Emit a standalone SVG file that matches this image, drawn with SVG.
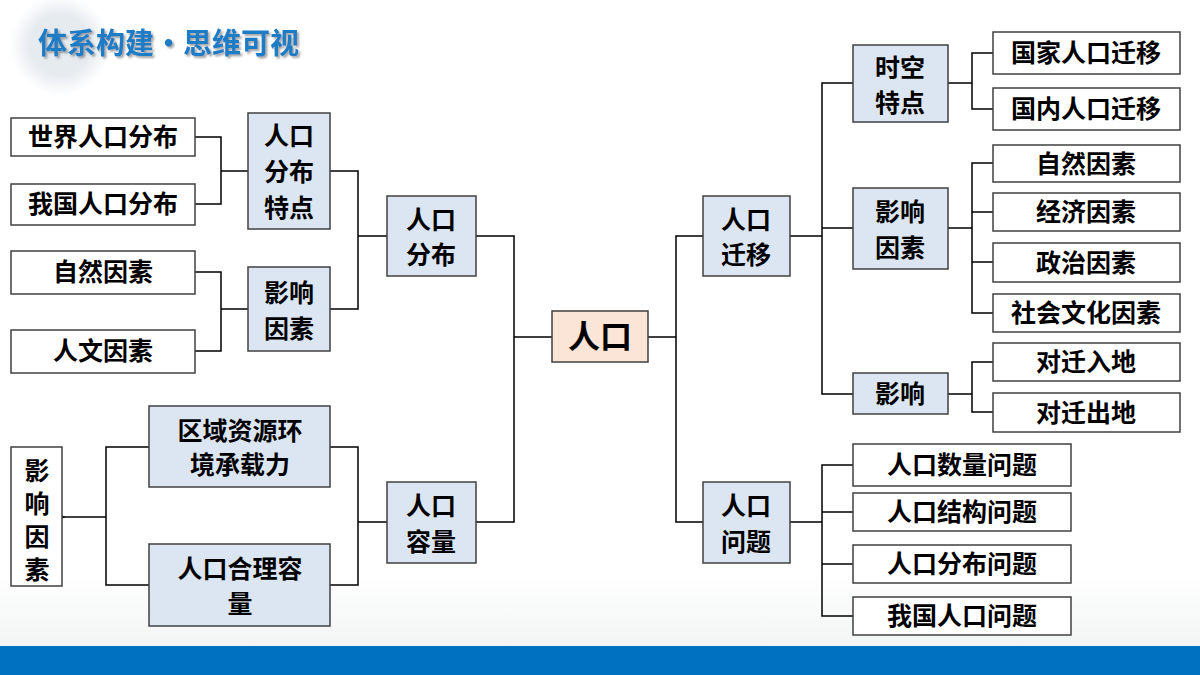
<svg xmlns="http://www.w3.org/2000/svg" width="1200" height="675" viewBox="0 0 1200 675">
<defs>
<style>
.w{fill:#fff;stroke:#404040;stroke-width:1.5}
.b{fill:#DCE6F2;stroke:#404040;stroke-width:1.5}
text{font-family:"Noto Sans CJK SC","Noto Sans",sans-serif;font-weight:700;fill:#000;text-anchor:middle;font-size:25px}
.c path{fill:none;stroke:#000;stroke-width:1.5}
</style>
<linearGradient id="bg" x1="0" y1="0" x2="0" y2="1"><stop offset="0.85" stop-color="#fff"/><stop offset="1" stop-color="#eef0f0"/></linearGradient>
<radialGradient id="ci"><stop offset="0.6" stop-color="#e6ebf0"/><stop offset="1" stop-color="#e6ebf0" stop-opacity="0"/></radialGradient>
<filter id="sh"><feDropShadow dx="2" dy="2" stdDeviation="1.2" flood-color="#666" flood-opacity="0.6"/></filter>
<marker id="ar" markerWidth="10" markerHeight="10" refX="1" refY="5" orient="auto" markerUnits="userSpaceOnUse"><path d="M9,1 L1,5 L9,9" fill="none" stroke="#000" stroke-width="1.2"/></marker>
</defs>
<rect width="1200" height="675" fill="url(#bg)"/>
<circle cx="60" cy="45" r="50" fill="url(#ci)"/>
<text x="38" y="54" filter="url(#sh)" style="fill:#1F7BC6;font-size:29px;text-anchor:start">体系构建•思维可视</text>
<rect x="0" y="646" width="1200" height="29" fill="#0070C0"/>
<g class="c">
<path d="M195,137H221V204H195M221,171H248"/>
<path d="M195,272H221V351H195M221,309H248"/>
<path d="M330,171H358V309H330M358,236H387"/>
<path d="M330,447H358V585H330M358,522H387"/>
<path d="M476,236H514V522H476M514,337H552"/>
<path d="M149,447H106V585H149"/>
<path d="M106,517H64" marker-end="url(#ar)"/>
<path d="M703,236H676V522H703M648,337H676"/>
<path d="M853,83H822V394H853M790,236H822M822,228H853"/>
<path d="M993,53H972V109H993M948,83H972"/>
<path d="M993,163H972V313H993M972,212H993M972,262H993M948,228H972"/>
<path d="M993,362H972V412H993M948,394H972"/>
<path d="M853,465H822V616H853M790,522H822M822,512H853M822,564H853"/>
</g>
<g id="n-shijie"><rect class="w" x="11" y="118" width="184" height="38"/><text x="103" y="146">世界人口分布</text></g>
<g id="n-woguo"><rect class="w" x="11" y="184" width="184" height="41"/><text x="103" y="213">我国人口分布</text></g>
<g id="n-ziran-l"><rect class="w" x="11" y="251" width="184" height="43"/><text x="103" y="281">自然因素</text></g>
<g id="n-renwen"><rect class="w" x="11" y="330" width="184" height="43"/><text x="103" y="360">人文因素</text></g>
<g id="n-fbtd"><rect class="b" x="248" y="113" width="82" height="116"/><text x="289" y="145">人口</text><text x="289" y="181">分布</text><text x="289" y="217">特点</text></g>
<g id="n-yxys-l"><rect class="b" x="248" y="267" width="82" height="84"/><text x="289" y="302">影响</text><text x="289" y="338">因素</text></g>
<g id="n-rkfb"><rect class="b" x="387" y="196" width="89" height="80"/><text x="431" y="229">人口</text><text x="431" y="264">分布</text></g>
<g id="n-rkrl"><rect class="b" x="387" y="482" width="89" height="81"/><text x="431" y="515">人口</text><text x="431" y="551">容量</text></g>
<g id="n-qyzy"><rect class="b" x="149" y="406" width="181" height="81"/><text x="240" y="440">区域资源环</text><text x="240" y="474">境承载力</text></g>
<g id="n-hlrl"><rect class="b" x="149" y="544" width="181" height="82"/><text x="240" y="578">人口合理容</text><text x="240" y="613">量</text></g>
<g id="n-yxys-v"><rect class="w" x="11" y="447" width="51" height="139"/><text x="37" y="480">影</text><text x="37" y="513">响</text><text x="37" y="546">因</text><text x="37" y="579">素</text></g>
<g id="n-renkou"><rect x="552" y="311" width="96" height="51" fill="#FBE5D6" stroke="#404040" stroke-width="1.5"/><text x="600" y="348" style="font-size:32px">人口</text></g>
<g id="n-rkqy"><rect class="b" x="703" y="196" width="87" height="80"/><text x="746" y="229">人口</text><text x="746" y="264">迁移</text></g>
<g id="n-rkwt"><rect class="b" x="703" y="482" width="87" height="81"/><text x="746" y="515">人口</text><text x="746" y="551">问题</text></g>
<g id="n-skd"><rect class="b" x="853" y="45" width="95" height="77"/><text x="900" y="77">时空</text><text x="900" y="112">特点</text></g>
<g id="n-yxys-r"><rect class="b" x="853" y="188" width="95" height="81"/><text x="900" y="221">影响</text><text x="900" y="257">因素</text></g>
<g id="n-yx"><rect class="b" x="853" y="373" width="95" height="41"/><text x="900" y="403">影响</text></g>
<g id="n-gj"><rect class="w" x="993" y="32" width="187" height="42"/><text x="1086" y="62">国家人口迁移</text></g>
<g id="n-gn"><rect class="w" x="993" y="88" width="187" height="42"/><text x="1086" y="118">国内人口迁移</text></g>
<g id="n-zr"><rect class="w" x="993" y="145" width="187" height="37"/><text x="1086" y="173">自然因素</text></g>
<g id="n-jj"><rect class="w" x="993" y="193" width="187" height="38"/><text x="1086" y="221">经济因素</text></g>
<g id="n-zz"><rect class="w" x="993" y="243" width="187" height="39"/><text x="1086" y="272">政治因素</text></g>
<g id="n-sh"><rect class="w" x="993" y="294" width="187" height="38"/><text x="1086" y="322">社会文化因素</text></g>
<g id="n-qr"><rect class="w" x="993" y="343" width="187" height="38"/><text x="1086" y="371">对迁入地</text></g>
<g id="n-qc"><rect class="w" x="993" y="393" width="187" height="39"/><text x="1086" y="422">对迁出地</text></g>
<g id="n-sl"><rect class="w" x="853" y="444" width="218" height="42"/><text x="962" y="474">人口数量问题</text></g>
<g id="n-jg"><rect class="w" x="853" y="493" width="218" height="38"/><text x="962" y="521">人口结构问题</text></g>
<g id="n-fb"><rect class="w" x="853" y="545" width="218" height="38"/><text x="962" y="573">人口分布问题</text></g>
<g id="n-wg"><rect class="w" x="853" y="597" width="218" height="38"/><text x="962" y="625">我国人口问题</text></g>
</svg>
